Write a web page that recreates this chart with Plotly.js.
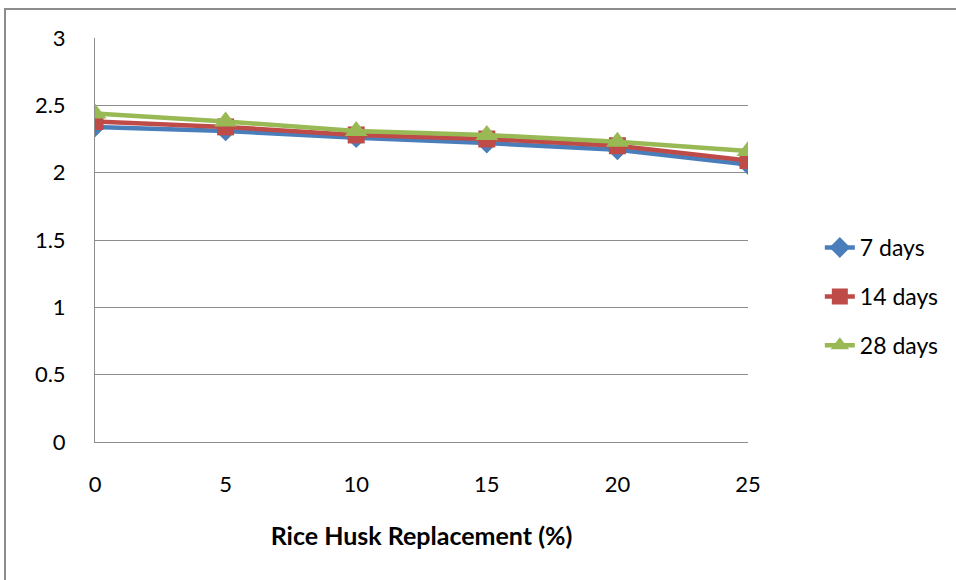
<!DOCTYPE html>
<html>
<head>
<meta charset="utf-8">
<script src="https://cdn.plot.ly/plotly-3.0.1.min.js"></script>
<style>
  html, body { margin: 0; padding: 0; background: #fff; }
  #wrap { position: relative; width: 956px; height: 580px; }
  #chart { position: absolute; left: 0; top: 0; width: 956px; height: 580px; }
  #frame { position: absolute; left: 4px; top: 8px; width: 960px; height: 580px;
           border-left: 2px solid #8c8c8c; border-top: 2px solid #8c8c8c; pointer-events: none; }
</style>
</head>
<body>
<div id="wrap">
  <div id="chart"></div>
  <div id="frame"></div>
</div>
<script>
const replacement = [0, 5, 10, 15, 20, 25];
const days7  = [2.34, 2.31, 2.26, 2.22, 2.17, 2.06];
const days14 = [2.38, 2.34, 2.28, 2.25, 2.20, 2.09];
const days28 = [2.44, 2.38, 2.31, 2.28, 2.23, 2.16];
const seriesNames = ['7 days', '14 days', '28 days'];
const xTitle = 'Rice Husk Replacement (%)';

const font = 'Lato, "Open Sans", "Noto Sans", sans-serif';

const traces = [
  {x: replacement, y: days7, name: seriesNames[0], legendgroup: 'a',
   mode: 'lines+markers', line: {color: '#4A7EBB', width: 4.5},
   marker: {symbol: 'diamond', size: 16, color: '#4A7EBB'}},
  {x: replacement, y: days14, name: seriesNames[1], legendgroup: 'b',
   mode: 'lines+markers', line: {color: '#BE4B48', width: 4.5},
   marker: {symbol: 'square', size: 17, color: '#BE4B48'}},
  {x: replacement, y: days28, name: seriesNames[2], legendgroup: 'c',
   mode: 'lines+markers', line: {color: '#98B954', width: 4.5},
   marker: {symbol: 'triangle-up', size: 20, color: '#98B954'}}
];

const layout = {
  width: 956, height: 580,
  margin: {l: 95, r: 208, t: 38, b: 138},
  paper_bgcolor: 'rgba(0,0,0,0)',
  plot_bgcolor: '#fff',
  font: {family: font, size: 22, color: '#000'},
  showlegend: true,
  legend: {x: 1.11, xanchor: 'left', y: 0.36, yanchor: 'middle',
           font: {family: font, size: 23, color: '#000'},
           tracegroupgap: 16, traceorder: 'grouped', bgcolor: 'rgba(0,0,0,0)'},
  xaxis: {
    range: [0, 25], dtick: 5, tick0: 0, showgrid: false, zeroline: false,
    showline: true, linecolor: '#8c8c8c', linewidth: 1,
    ticks: '', ticklabelstandoff: 23,
    tickfont: {family: font, size: 22, color: '#000'},
    title: {text: '<b>' + xTitle + '</b>', standoff: 31,
            font: {family: font, size: 25, color: '#000'}},
    fixedrange: true
  },
  yaxis: {
    range: [0, 3], dtick: 0.5, tick0: 0, showgrid: true, gridcolor: '#8c8c8c', gridwidth: 1,
    zeroline: false, showline: true, linecolor: '#8c8c8c', linewidth: 1,
    ticks: '', ticklabelstandoff: 24,
    tickfont: {family: font, size: 22, color: '#000'},
    fixedrange: true
  }
};

Plotly.newPlot('chart', traces, layout, {displayModeBar: false, staticPlot: true});
</script>
</body>
</html>
